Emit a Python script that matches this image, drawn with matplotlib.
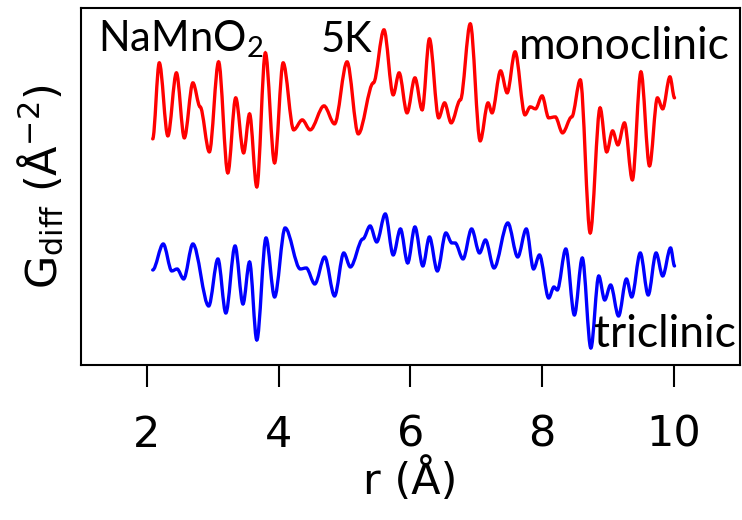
import matplotlib
matplotlib.use("Agg")
import matplotlib.pyplot as plt
from matplotlib.path import Path
from matplotlib.patches import PathPatch

# G_diff extrema (r in Angstrom), monoclinic and triclinic fits at 5K
r_mono = [2.09, 2.19, 2.32, 2.45, 2.57, 2.70, 2.81, 2.95, 3.09, 3.23, 3.35, 3.47,
          3.56, 3.67, 3.80, 3.94, 4.07, 4.23, 4.36, 4.48, 4.69, 4.85, 5.04, 5.21,
          5.44, 5.60, 5.74, 5.83, 5.95, 6.07, 6.18, 6.29, 6.43, 6.52, 6.62, 6.76,
          6.91, 7.06, 7.18, 7.24, 7.37, 7.47, 7.59, 7.74, 7.82, 7.90, 8.00, 8.10,
          8.20, 8.31, 8.45, 8.58, 8.73, 8.88, 8.98, 9.07, 9.15, 9.25, 9.37, 9.50,
          9.63, 9.75, 9.83, 9.94, 10.01]
g_mono = [-0.29, 0.47, -0.26, 0.37, -0.28, 0.27, 0.03, -0.42, 0.48, -0.63, 0.12, -0.43,
          -0.04, -0.77, 0.57, -0.53, 0.47, -0.20, -0.10, -0.20, 0.04, -0.14, 0.48, -0.24,
          0.27, 0.80, 0.15, 0.37, -0.03, 0.32, 0.00, 0.71, -0.08, 0.07, -0.13, 0.10,
          0.86, -0.31, 0.07, -0.03, 0.39, 0.17, 0.58, -0.05, 0.03, 0.01, 0.14, -0.08,
          -0.07, -0.23, -0.07, 0.30, -1.23, 0.02, -0.42, -0.21, -0.35, -0.13, -0.70, 0.38,
          -0.56, 0.12, 0.01, 0.33, 0.12]

r_tri = [2.09, 2.25, 2.38, 2.46, 2.56, 2.70, 2.94, 3.08, 3.20, 3.34, 3.46, 3.56,
         3.67, 3.81, 3.94, 4.10, 4.33, 4.42, 4.55, 4.70, 4.85, 4.99, 5.09, 5.28,
         5.39, 5.49, 5.62, 5.74, 5.85, 5.96, 6.07, 6.19, 6.29, 6.41, 6.54, 6.63,
         6.68, 6.80, 6.93, 7.05, 7.14, 7.27, 7.48, 7.63, 7.76, 7.87, 7.96, 8.10,
         8.18, 8.23, 8.36, 8.49, 8.61, 8.74, 8.86, 8.95, 9.04, 9.16, 9.28, 9.36,
         9.49, 9.61, 9.73, 9.83, 9.95, 10.01]
g_tri = [-0.05, 0.21, -0.06, -0.04, -0.14, 0.21, -0.41, 0.06, -0.48, 0.19, -0.39, 0.03,
         -0.75, 0.27, -0.32, 0.37, -0.04, -0.03, -0.19, 0.08, -0.31, 0.12, -0.02, 0.26,
         0.39, 0.23, 0.51, 0.10, 0.36, 0.02, 0.38, -0.01, 0.28, -0.06, 0.32, 0.22,
         0.22, 0.06, 0.36, 0.12, 0.25, -0.03, 0.42, 0.08, 0.36, -0.04, 0.10, -0.33,
         -0.22, -0.25, 0.16, -0.50, 0.07, -0.83, -0.11, -0.35, -0.20, -0.51, -0.14, -0.32,
         0.12, -0.30, 0.12, -0.11, 0.17, -0.01]

offset_mono = 1.55
offset_tri = 0.0

plt.rcParams['mathtext.fontset'] = 'custom'
plt.rcParams['mathtext.rm'] = 'Lato'
plt.rcParams['mathtext.it'] = 'Lato:italic'


# smooth line through the extrema, flat tangent at each point
def smooth_path(r, g, offset):
    verts = [(r[0], g[0] + offset)]
    codes = [Path.MOVETO]
    for i in range(1, len(r)):
        dx = (r[i] - r[i - 1]) / 3.0
        verts += [(r[i - 1] + dx, g[i - 1] + offset),
                  (r[i] - dx, g[i] + offset),
                  (r[i], g[i] + offset)]
        codes += [Path.CURVE4] * 3
    return Path(verts, codes)


fig = plt.figure(figsize=(7.42, 5.2), dpi=100)
ax = fig.add_axes([0.109, 0.298, 0.888, 0.687])

for r, g, off, col in [(r_mono, g_mono, offset_mono, 'r'),
                       (r_tri, g_tri, offset_tri, 'b')]:
    ax.add_patch(PathPatch(smooth_path(r, g, off), fill=False,
                           edgecolor=col, lw=2.4, capstyle='round'))

ax.set_xlim(1.0, 11.0)
ax.set_ylim(-1.0, 2.57)
ax.set_xticks([2, 4, 6, 8, 10])
ax.set_yticks([])
ax.tick_params(axis='x', length=16, width=1.5, pad=19, labelsize=31)
for s in ax.spines.values():
    s.set_linewidth(1.5)

ax.set_xlabel('r (Å)', fontsize=31, labelpad=2)
ax.set_ylabel(r'G$_\mathrm{diff}$ (Å$^{-2}$)', fontsize=31, labelpad=11,
              math_fontfamily='dejavusans')

lab = dict(family='Lato', va='baseline', transform=ax.transAxes)
ax.text(0.026, 0.877, r'NaMnO$_\mathrm{2}$', fontsize=30, **lab)
ax.text(0.364, 0.877, '5K', fontsize=30, **lab)
ax.text(0.985, 0.857, 'monoclinic', ha='right', fontsize=32, **lab)
ax.text(0.994, 0.051, 'triclinic', ha='right', fontsize=32, **lab)

fig.savefig('out.png', dpi=100)
